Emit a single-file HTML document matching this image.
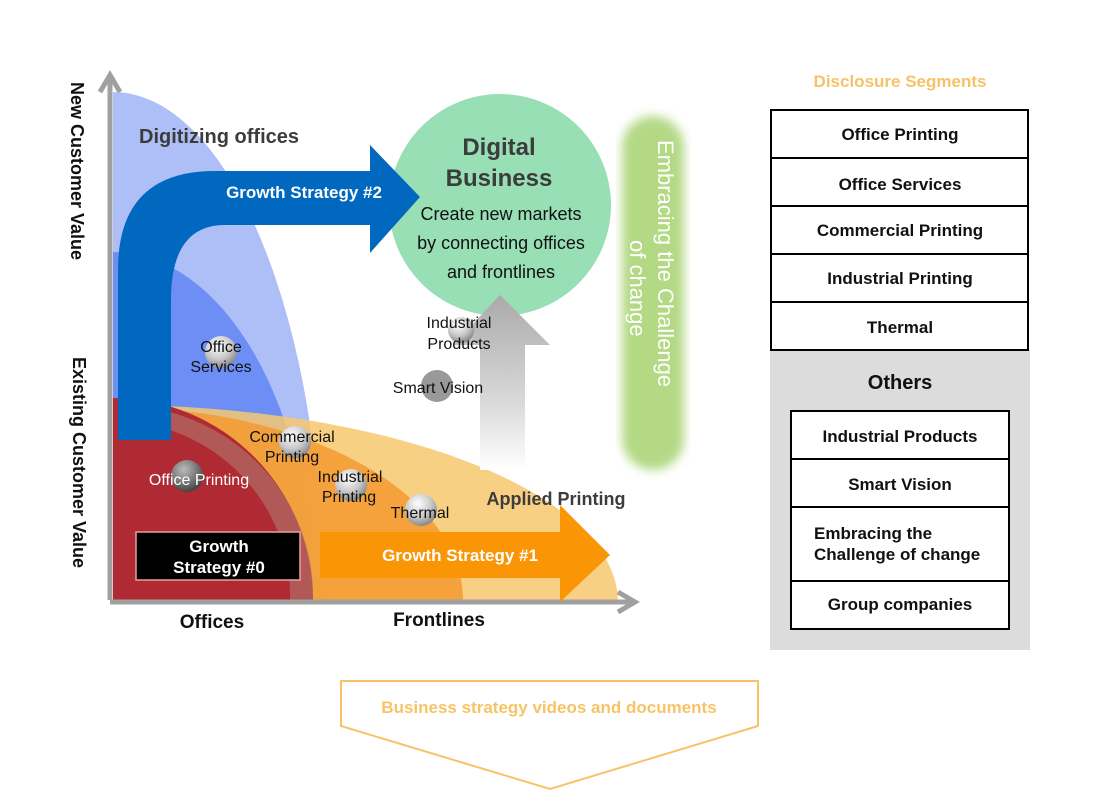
<!DOCTYPE html>
<html><head><meta charset="utf-8"><style>
html,body{margin:0;padding:0;background:#fff;}
svg{display:block;font-family:"Liberation Sans",sans-serif;}
</style></head><body>
<svg width="1100" height="791" viewBox="0 0 1100 791" xmlns="http://www.w3.org/2000/svg">
<defs>
<radialGradient id="ball" cx="0.4" cy="0.3" r="0.7"><stop offset="0" stop-color="#fff"/><stop offset="0.6" stop-color="#c8c8c8"/><stop offset="1" stop-color="#8a8a8a"/></radialGradient>
<radialGradient id="dball" cx="0.4" cy="0.3" r="0.7"><stop offset="0" stop-color="#bbb"/><stop offset="0.6" stop-color="#777"/><stop offset="1" stop-color="#444"/></radialGradient>
<linearGradient id="garrow" x1="0" y1="0" x2="0" y2="1"><stop offset="0" stop-color="#aaa"/><stop offset="0.6" stop-color="#d8d8d8"/><stop offset="1" stop-color="#fff"/></linearGradient>
<filter id="blur"><feGaussianBlur stdDeviation="5"/></filter>
</defs>
<!-- light blue -->
<path d="M113,92 A210,508 0 0 1 323,600 L113,600 Z" fill="#aebff8"/>
<!-- medium blue -->
<path d="M113,252 A200,348 0 0 1 313,600 L113,600 Z" fill="#6d8ff5"/>
<!-- light orange -->
<path d="M113,405 A505,197 0 0 1 618,600 L113,600 Z" fill="#f7c86f" opacity="0.85"/>
<!-- dark orange -->
<path d="M113,407 A350,193 0 0 1 463,600 L113,600 Z" fill="#f59a30" opacity="0.85"/>
<!-- red -->
<path d="M113,398 A200,202 0 0 1 313,600 L113,600 Z" fill="#b02a34"/>
<path d="M170,412 A200,190 0 0 1 313,600 L290,600 A180,175 0 0 0 170,430Z" fill="#b07a70" opacity="0.6"/>
<!-- axes -->
<path d="M110,600 L110,78 M100,92 L110,75 L120,92" stroke="#a0a0a0" stroke-width="5" fill="none"/>
<path d="M110,602 L632,602 M618,592 L635,602 L618,612" stroke="#a0a0a0" stroke-width="5" fill="none"/>
<!-- green circle -->
<circle cx="500" cy="205" r="111" fill="#98dfb6"/>
<!-- gray up arrow -->
<path d="M480,470 L480,345 L453,345 L500,295 L550,345 L525,345 L525,470 Z" fill="url(#garrow)"/>
<!-- green pill -->
<rect x="622" y="116" width="62" height="354" rx="31" fill="#b3d985" filter="url(#blur)"/>
<text transform="translate(658,140) rotate(90)" font-size="22" fill="#fff">Embracing the Challenge</text>
<text transform="translate(630,240) rotate(90)" font-size="22" fill="#fff">of change</text>
<!-- blue arrow #2 -->
<path d="M118,440 L118,270 Q118,171 215,171 L370,171 L370,145 L420,197 L370,253 L370,225 L225,225 Q171,225 171,300 L171,440 Z" fill="#0068be"/>
<text x="304" y="198" font-size="17" font-weight="bold" fill="#fff" text-anchor="middle">Growth Strategy #2</text>
<!-- orange arrow #1 -->
<path d="M320,532 L560,532 L560,505 L610,555 L560,602 L560,578 L320,578 Z" fill="#fa9606"/>
<text x="460" y="561" font-size="17" font-weight="bold" fill="#fff" text-anchor="middle">Growth Strategy #1</text>
<!-- black box -->
<rect x="136" y="532" width="164" height="48" fill="#000" stroke="#e9a0a0" stroke-width="1.5"/>
<text x="219" y="552" font-size="17" font-weight="bold" fill="#fff" text-anchor="middle">Growth</text>
<text x="219" y="573" font-size="17" font-weight="bold" fill="#fff" text-anchor="middle">Strategy #0</text>
<!-- balls -->
<circle cx="187" cy="476" r="16" fill="url(#dball)"/>
<circle cx="221" cy="352" r="16" fill="url(#ball)"/>
<circle cx="295" cy="442" r="16" fill="url(#ball)"/>
<circle cx="351" cy="485" r="16" fill="url(#ball)"/>
<circle cx="421" cy="510" r="16" fill="url(#ball)"/>
<circle cx="461" cy="330" r="13" fill="url(#ball)"/>
<circle cx="437" cy="386" r="16" fill="#999"/>
<!-- labels -->
<text x="219" y="143" font-size="20" font-weight="bold" fill="#3c3c3c" text-anchor="middle">Digitizing offices</text>
<text x="499" y="155" font-size="24" font-weight="bold" fill="#3c3c3c" text-anchor="middle">Digital</text>
<text x="499" y="186" font-size="24" font-weight="bold" fill="#3c3c3c" text-anchor="middle">Business</text>
<text x="501" y="220" font-size="18" fill="#111" text-anchor="middle">Create new markets</text>
<text x="501" y="249" font-size="18" fill="#111" text-anchor="middle">by connecting offices</text>
<text x="501" y="278" font-size="18" fill="#111" text-anchor="middle">and frontlines</text>
<g font-size="16" fill="#111" text-anchor="middle">
<text x="221" y="352">Office</text><text x="221" y="372">Services</text>
<text x="292" y="442">Commercial</text><text x="292" y="462">Printing</text>
<text x="350" y="482">Industrial</text><text x="349" y="502">Printing</text>
<text x="420" y="518">Thermal</text>
<text x="459" y="328">Industrial</text><text x="459" y="349">Products</text>
<text x="438" y="393">Smart Vision</text>
<text x="199" y="485" fill="#fff">Office Printing</text>
</g>
<text x="556" y="505" font-size="18" font-weight="bold" fill="#3c3c3c" text-anchor="middle">Applied Printing</text>
<text x="212" y="628" font-size="19" font-weight="bold" fill="#111" text-anchor="middle">Offices</text>
<text x="439" y="626" font-size="19" font-weight="bold" fill="#111" text-anchor="middle">Frontlines</text>
<text transform="translate(71,82) rotate(90)" font-size="18" font-weight="bold" fill="#111">New Customer Value</text>
<text transform="translate(73,357) rotate(90)" font-size="18" font-weight="bold" fill="#111">Existing Customer Value</text>
<!-- right panel -->
<text x="900" y="87" font-size="17" font-weight="bold" fill="#f5c268" text-anchor="middle">Disclosure Segments</text>
<rect x="770" y="350" width="260" height="300" fill="#dcdcdc"/>
<g fill="#fff" stroke="#000" stroke-width="2">
<rect x="771" y="110" width="257" height="48"/><rect x="771" y="158" width="257" height="48"/>
<rect x="771" y="206" width="257" height="48"/><rect x="771" y="254" width="257" height="48"/>
<rect x="771" y="302" width="257" height="48"/>
<rect x="791" y="411" width="218" height="48"/><rect x="791" y="459" width="218" height="48"/>
<rect x="791" y="507" width="218" height="74"/><rect x="791" y="581" width="218" height="48"/>
</g>
<g font-size="17" font-weight="bold" fill="#111" text-anchor="middle">
<text x="900" y="140">Office Printing</text><text x="900" y="190">Office Services</text>
<text x="900" y="236">Commercial Printing</text><text x="900" y="284">Industrial Printing</text>
<text x="900" y="333">Thermal</text>
<text x="900" y="389" font-size="20">Others</text>
<text x="900" y="442">Industrial Products</text><text x="900" y="490">Smart Vision</text>
<text x="814" y="539" text-anchor="start">Embracing the</text><text x="814" y="560" text-anchor="start">Challenge of change</text>
<text x="900" y="610">Group companies</text>
</g>
<!-- bottom -->
<path d="M341,681 L758,681 L758,726 L550,789 L341,726 Z" fill="#fff" stroke="#f7c366" stroke-width="2"/>
<text x="549" y="713" font-size="17" font-weight="bold" fill="#f7c366" text-anchor="middle">Business strategy videos and documents</text>
</svg>
</body></html>
